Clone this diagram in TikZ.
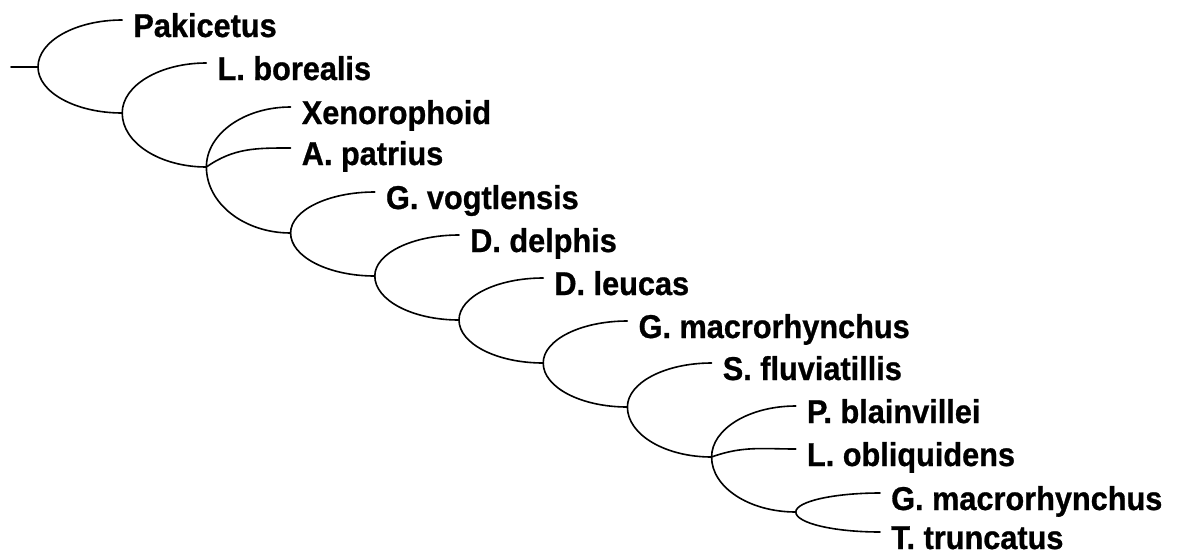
\documentclass[tikz,border=0pt]{standalone}
\usepackage{fontspec}
\setmainfont{Liberation Sans}[FakeStretch=0.93, BoldFeatures={FakeBold=0.8}]
\usetikzlibrary{calc}
\tikzset{
  edge/.style={line width=1.6pt, line cap=round},
  % quarter-ellipse branch: leaves the fork vertically, reaches the tip horizontally
  arcbranch/.style={to path={let \p1=(\tikztostart), \p2=(\tikztotarget) in
    .. controls (\x1,{\y1+0.5523*((\y2)-(\y1))}) and ({\x2-0.5523*((\x2)-(\x1))},\y2) .. (\tikztotarget)}},
  midbranch/.style={out=#1, in=180},
  taxon/.style={anchor=base west, inner sep=0pt, font=\bfseries\fontsize{33}{38}\selectfont},
  tip/.style={xshift=11pt, yshift=-17pt},
}
\begin{document}
\begin{tikzpicture}[x=1pt,y=-1pt]
\useasboundingbox (0,0) rectangle (1180,557);

% forks
\coordinate (root) at (11,67);
\coordinate (n1) at (38,67);
\coordinate (n2) at (122.2,113);
\coordinate (n3) at (206.4,167);
\coordinate (n4) at (290.6,233);
\coordinate (n5) at (374.8,276);
\coordinate (n6) at (459,320);
\coordinate (n7) at (543.2,363);
\coordinate (n8) at (627.4,407);
\coordinate (n9) at (711.6,457);
\coordinate (n10) at (795.8,512);

% branch tips
\coordinate (tPak) at (122.2,20);
\coordinate (tLbor) at (206.4,63);
\coordinate (tXen) at (290.6,107);
\coordinate (tApat) at (290.6,148);
\coordinate (tGvog) at (374.8,192);
\coordinate (tDdel) at (459,235);
\coordinate (tDleu) at (543.2,278);
\coordinate (tGmacA) at (627.4,321);
\coordinate (tSflu) at (711.6,363);
\coordinate (tPbla) at (795.8,406);
\coordinate (tLobl) at (795.8,449);
\coordinate (tGmacB) at (880,493);
\coordinate (tTtru) at (880,532);

% taxon names
\node[taxon] (lPak) at ([tip]tPak) {Pakicetus};
\node[taxon] (lLbor) at ([tip]tLbor) {L. borealis};
\node[taxon] (lXen) at ([tip]tXen) {Xenorophoid};
\node[taxon] (lApat) at ([tip]tApat) {A. patrius};
\node[taxon] (lGvog) at ([tip]tGvog) {G. vogtlensis};
\node[taxon] (lDdel) at ([tip]tDdel) {D. delphis};
\node[taxon] (lDleu) at ([tip]tDleu) {D. leucas};
\node[taxon] (lGmacA) at ([tip]tGmacA) {G. macrorhynchus};
\node[taxon] (lSflu) at ([tip]tSflu) {S. fluviatillis};
\node[taxon] (lPbla) at ([tip]tPbla) {P. blainvillei};
\node[taxon] (lLobl) at ([tip]tLobl) {L. obliquidens};
\node[taxon] (lGmacB) at ([tip]tGmacB) {G. macrorhynchus};
\node[taxon] (lTtru) at ([tip]tTtru) {T. truncatus};

% tree
\draw[edge] (root) -- (n1);
\draw[edge] (n1) to[arcbranch] (tPak);
\draw[edge] (n1) to[arcbranch] (n2);
\draw[edge] (n2) to[arcbranch] (tLbor);
\draw[edge] (n2) to[arcbranch] (n3);
\draw[edge] (n3) to[arcbranch] (tXen);
\draw[edge] (n3) to[midbranch=35] (tApat);
\draw[edge] (n3) to[arcbranch] (n4);
\draw[edge] (n4) to[arcbranch] (tGvog);
\draw[edge] (n4) to[arcbranch] (n5);
\draw[edge] (n5) to[arcbranch] (tDdel);
\draw[edge] (n5) to[arcbranch] (n6);
\draw[edge] (n6) to[arcbranch] (tDleu);
\draw[edge] (n6) to[arcbranch] (n7);
\draw[edge] (n7) to[arcbranch] (tGmacA);
\draw[edge] (n7) to[arcbranch] (n8);
\draw[edge] (n8) to[arcbranch] (tSflu);
\draw[edge] (n8) to[arcbranch] (n9);
\draw[edge] (n9) to[arcbranch] (tPbla);
\draw[edge] (n9) to[midbranch=20] (tLobl);
\draw[edge] (n9) to[arcbranch] (n10);
\draw[edge] (n10) to[arcbranch] (tGmacB);
\draw[edge] (n10) to[arcbranch] (tTtru);
\end{tikzpicture}
\end{document}
